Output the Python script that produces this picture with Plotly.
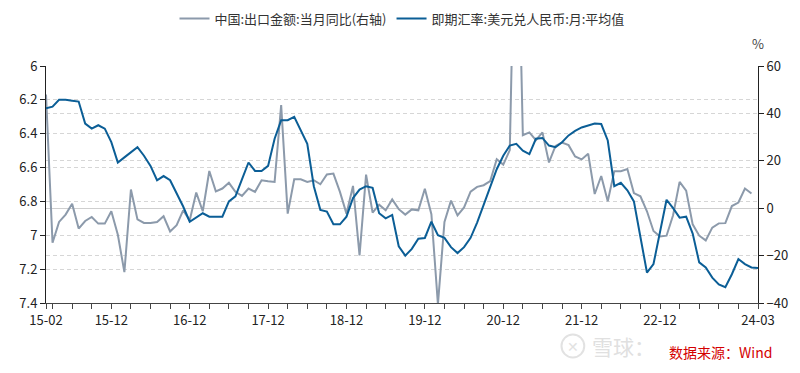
import plotly.graph_objects as go

# Month categories 2015-02 .. 2024-03
months = []
for yr in range(2015, 2025):
    for mo in range(1, 13):
        if (yr == 2015 and mo < 2) or (yr == 2024 and mo > 3):
            continue
        months.append(f"{yr % 100:02d}-{mo:02d}")

# 即期汇率:美元兑人民币:月:平均值 (left axis, reversed)
usdcny = [
    6.25, 6.24, 6.20, 6.20, 6.205, 6.21, 6.34, 6.37, 6.35, 6.37, 6.45,
    6.57, 6.54, 6.51, 6.48, 6.53, 6.59, 6.675, 6.65, 6.675, 6.75, 6.83, 6.92,
    6.895, 6.87, 6.89, 6.89, 6.89, 6.80, 6.77, 6.67, 6.57, 6.62, 6.62, 6.59,
    6.43, 6.32, 6.32, 6.30, 6.38, 6.46, 6.71, 6.85, 6.86, 6.935, 6.935, 6.89,
    6.78, 6.73, 6.71, 6.72, 6.87, 6.90, 6.88, 7.065, 7.12, 7.08, 7.02, 7.016,
    6.92, 7.00, 7.015, 7.07, 7.105, 7.07, 7.015, 6.925, 6.82, 6.72, 6.61, 6.53,
    6.47, 6.46, 6.50, 6.52, 6.43, 6.425, 6.47, 6.48, 6.45, 6.41, 6.383, 6.363,
    6.35, 6.34, 6.343, 6.44, 6.71, 6.69, 6.734, 6.80, 7.01, 7.22, 7.17, 6.98,
    6.79, 6.84, 6.896, 6.89, 6.99, 7.16, 7.19, 7.25, 7.29, 7.307, 7.23, 7.14,
    7.17, 7.19, 7.194,
]

# 中国:出口金额:当月同比 (right axis, %)
export_yoy = [
    48.0, -14.6, -5.8, -2.7, 1.9, -8.6, -5.4, -3.7, -6.5, -6.5, -1.3,
    -11.2, -27.0, 7.9, -4.7, -6.2, -6.2, -5.8, -3.4, -9.8, -7.2, -0.9, -5.1,
    6.6, -1.3, 15.7, 7.1, 8.3, 10.7, 6.9, 5.2, 8.3, 6.9, 11.8, 11.4,
    11.1, 43.5, -2.3, 12.2, 12.2, 11.1, 11.8, 10.1, 14.2, 14.6, 6.9, -2.3,
    9.4, -19.9, 14.2, -1.9, 1.5, -0.9, 3.7, -0.4, -2.7, -0.5, -0.9, 8.2,
    -2.5, -40.6, -5.8, 3.2, -3.0, 0.3, 7.0, 9.0, 9.7, 11.4, 20.7, 18.4,
    24.5, 154.9, 30.8, 32.0, 28.7, 32.0, 19.3, 26.3, 27.7, 26.6, 21.8, 20.6,
    23.0, 6.0, 13.6, 2.9, 15.6, 15.6, 16.5, 6.4, 5.0, -1.3, -9.6, -11.9,
    -11.6, -3.0, 11.1, 7.4, -6.8, -11.6, -13.6, -8.2, -6.4, -6.3, 0.9, 2.4,
    8.3, 6.2, None,
]

label_months = ["15-02", "15-12", "16-12", "17-12", "18-12", "19-12",
                "20-12", "21-12", "22-12", "24-03"]
left_ticks = [6, 6.2, 6.4, 6.6, 6.8, 7, 7.2, 7.4]
left_ticktext = ["6", "6.2", "6.4", "6.6", "6.8", "7", "7.2", "7.4"]
right_ticks = [-40, -20, 0, 20, 40, 60]

name_export = "中国:出口金额:当月同比(右轴)"
name_fx = "即期汇率:美元兑人民币:月:平均值"

FONT = "Noto Sans CJK SC, Noto Sans, sans-serif"
GREY = "#8c9aab"
BLUE = "#0b5e96"

tickvals_x = [m for i, m in enumerate(months)
              if i == 0 or m in label_months or m[-2:] in ("03", "06", "09", "12")]
ticktext_x = [m if m in label_months else "" for m in tickvals_x]

fig = go.Figure()
fig.add_trace(go.Scatter(
    x=months, y=export_yoy, name=name_export, mode="lines",
    line=dict(color=GREY, width=2), yaxis="y", connectgaps=False,
))
fig.add_trace(go.Scatter(
    x=months, y=usdcny, name=name_fx, mode="lines",
    line=dict(color=BLUE, width=2), yaxis="y2",
))

# the page body has an 8px margin, so the figure is sized to fit the window
fig.update_layout(
    width=792, height=365,
    margin=dict(l=38, r=42, t=58, b=70, autoexpand=False),
    paper_bgcolor="white", plot_bgcolor="white",
    font=dict(family=FONT, size=13, color="#222"),
    showlegend=True,
    legend=dict(orientation="h", x=0.5, xanchor="center", y=1.2, yanchor="middle",
                font=dict(size=13, color="#333"), bgcolor="rgba(0,0,0,0)",
                itemwidth=30, traceorder="normal"),
    xaxis=dict(
        type="category", range=[0, len(months) - 1],
        tickmode="array", tickvals=tickvals_x, ticktext=ticktext_x,
        ticks="outside", ticklen=5, tickcolor="#444", tickwidth=1,
        showline=True, linecolor="#444", linewidth=1,
        showgrid=False, zeroline=False,
        tickfont=dict(size=13, color="#222"),
    ),
    yaxis=dict(
        side="right", range=[-40, 60],
        tickmode="array", tickvals=right_ticks,
        ticks="outside", ticklen=5, tickcolor="#222",
        showline=True, linecolor="#222", linewidth=1,
        showgrid=True, gridcolor="#d6d6d6", griddash="4px,3px", gridwidth=1,
        zeroline=True, zerolinecolor="#cfcfcf", zerolinewidth=1,
        tickfont=dict(size=13, color="#222"),
    ),
    yaxis2=dict(
        side="left", overlaying="y", range=[7.4, 6],
        tickmode="array", tickvals=left_ticks, ticktext=left_ticktext,
        ticks="outside", ticklen=5, tickcolor="#222",
        showline=True, linecolor="#222", linewidth=1,
        showgrid=True, gridcolor="#d6d6d6", griddash="4px,3px", gridwidth=1,
        zeroline=False,
        tickfont=dict(size=13, color="#222"),
    ),
)

fig.add_annotation(text="%", xref="paper", yref="paper", x=1.0, y=1.093,
                   xanchor="center", yanchor="middle", showarrow=False,
                   font=dict(size=13, color="#444"))

# watermark
fig.add_shape(type="circle", xref="paper", yref="paper",
              x0=0.724, x1=0.756, y0=-0.23, y1=-0.133,
              line=dict(color="#e2e2e2", width=2))
fig.add_annotation(text="✕", xref="paper", yref="paper", x=0.740, y=-0.181,
                   xanchor="center", yanchor="middle",
                   showarrow=False, font=dict(size=14, color="#e2e2e2"))
fig.add_annotation(text="雪球：", xref="paper", yref="paper", x=0.764, y=-0.181,
                   xanchor="left", yanchor="middle", showarrow=False,
                   font=dict(size=21, color="#e0e0e0"))
fig.add_annotation(text="数据来源：Wind", xref="paper", yref="paper", x=0.872, y=-0.207,
                   xanchor="left", yanchor="middle", showarrow=False,
                   font=dict(size=14, color="#d40000"))

fig.write_html("out.html")
